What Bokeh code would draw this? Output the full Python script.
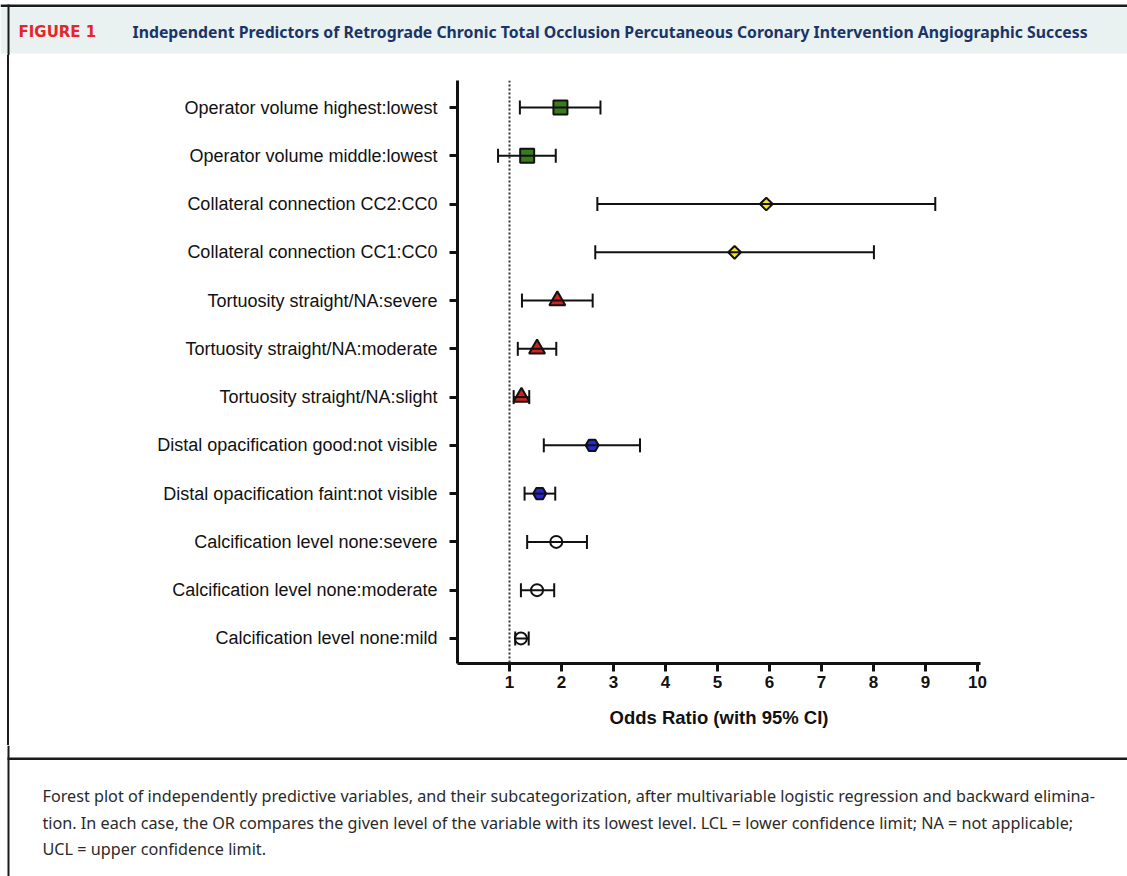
import math
from bokeh.plotting import figure
from bokeh.layouts import column, row
from bokeh.models import Range1d, FixedTicker, Span, ColumnDataSource, Div
from bokeh.core.properties import value
from bokeh.embed import file_html
from bokeh.resources import INLINE

# ---------------- data ----------------
labels = [
    "Operator volume highest:lowest",
    "Operator volume middle:lowest",
    "Collateral connection CC2:CC0",
    "Collateral connection CC1:CC0",
    "Tortuosity straight/NA:severe",
    "Tortuosity straight/NA:moderate",
    "Tortuosity straight/NA:slight",
    "Distal opacification good:not visible",
    "Distal opacification faint:not visible",
    "Calcification level none:severe",
    "Calcification level none:moderate",
    "Calcification level none:mild",
]
odds_ratio = [1.98, 1.34, 5.94, 5.33, 1.92, 1.53, 1.23, 2.59, 1.58, 1.90, 1.53, 1.22]
lcl = [1.20, 0.78, 2.69, 2.65, 1.24, 1.16, 1.08, 1.66, 1.29, 1.34, 1.22, 1.11]
ucl = [2.75, 1.89, 9.19, 8.01, 2.60, 1.90, 1.38, 3.51, 1.88, 2.49, 1.86, 1.37]
groups = ["operator", "operator", "collateral", "collateral",
          "tortuosity", "tortuosity", "tortuosity",
          "distal", "distal",
          "calcification", "calcification", "calcification"]
x_ticks = [1, 2, 3, 4, 5, 6, 7, 8, 9, 10]
reference_or = 1

title_tag = "FIGURE 1"
title_text = ("Independent Predictors of Retrograde Chronic Total Occlusion "
              "Percutaneous Coronary Intervention Angiographic Success")
caption_lines = [
    "Forest plot of independently predictive variables, and their subcategorization, after multivariable logistic regression and backward elimina-",
    "tion. In each case, the OR compares the given level of the variable with its lowest level. LCL = lower confidence limit; NA = not applicable;",
    "UCL = upper confidence limit.",
]

# ---------------- styles ----------------
style = {
    "operator":      dict(marker="square",   fill="#3B7A1E", size=14, angle=0.0),
    "collateral":    dict(marker="square",   fill="#F2E61E", size=9,  angle=math.pi / 4),
    "tortuosity":    dict(marker="triangle", fill="#D61F1F", size=16, angle=0.0),
    "distal":        dict(marker="hex",      fill="#2626DC", size=13, angle=0.0),
    "calcification": dict(marker="circle",   fill="#FFFFFF", size=12, angle=0.0),
}
INK = "#111111"
RULE = "#1a1a1a"

W, H = 1127, 876
TOP_H, BOT_H = 55, 131
MID_H = H - TOP_H - BOT_H
STRIP_W = 10


def blank(width, height):
    f = figure(width=width, height=height, output_backend="svg", toolbar_location=None,
               x_range=Range1d(0, width), y_range=Range1d(height, 0),
               x_axis_type=None, y_axis_type=None, min_border=0,
               background_fill_color="white", border_fill_color="white")
    f.outline_line_color = None
    f.grid.grid_line_color = None
    return f


# ---------------- title band ----------------
top = blank(W, TOP_H)
top.quad(left=[0], right=[W], top=[7], bottom=[53], fill_color="#E9F1F1", line_color=None)
top.quad(left=[0], right=[W], top=[4], bottom=[6.5], fill_color=RULE, line_color=None)
top.quad(left=[7], right=[9], top=[4], bottom=[TOP_H], fill_color=RULE, line_color=None)
top.text(x=[18], y=[31], text=[title_tag], text_font=value("DejaVu Sans"),
         text_font_style="bold", text_font_size="15px", text_color="#E4262C",
         text_baseline="middle")
top.text(x=[132], y=[31], text=[title_text], text_font=value("Noto Sans"),
         text_font_style="bold", text_font_size="15.8px", text_color="#1B3467",
         text_baseline="middle")

# ---------------- left rule strip (plain box, so it is not frame-aligned) ----------------
strip = Div(text="", width=STRIP_W, height=MID_H, margin=0,
            styles={"background": "linear-gradient(to right, #ffffff 7px, %s 7px, %s 9px, #ffffff 9px)" % (RULE, RULE)})

# ---------------- forest plot ----------------
n = len(labels)
ys = [n - i for i in range(n)]
MW = W - STRIP_W
FL, FR, FT, FB = 457 - STRIP_W, 980 - STRIP_W, 80 - TOP_H, 663 - TOP_H

p = figure(width=MW, height=MID_H, output_backend="svg", toolbar_location=None,
           x_range=Range1d(0, 10.06), y_range=Range1d(0.48, 12.56),
           min_border_left=FL, min_border_right=MW - FR,
           min_border_top=FT, min_border_bottom=MID_H - FB,
           background_fill_color="white", border_fill_color="white")
p.outline_line_color = None
p.grid.grid_line_color = None

p.add_layout(Span(location=reference_or, dimension="height", line_color="#333333",
                  line_width=2, line_dash="2 2"))

src = ColumnDataSource(dict(
    x=odds_ratio, y=ys, lcl=lcl, ucl=ucl,
    marker=[style[g]["marker"] for g in groups],
    fill=[style[g]["fill"] for g in groups],
    size=[style[g]["size"] for g in groups],
    angle=[style[g]["angle"] for g in groups],
))
p.scatter(x="x", y="y", source=src, marker="marker", fill_color="fill", size="size",
          angle="angle", line_color=INK, line_width=2)
p.segment(x0="lcl", y0="y", x1="ucl", y1="y", source=src, line_color=INK, line_width=2)
p.scatter(x="lcl", y="y", source=src, marker="dash", angle=math.pi / 2, size=14,
          line_color=INK, line_width=2)
p.scatter(x="ucl", y="y", source=src, marker="dash", angle=math.pi / 2, size=14,
          line_color=INK, line_width=2)

for ax in (p.xaxis[0], p.yaxis[0]):
    ax.axis_line_width = 3
    ax.axis_line_color = INK
    ax.major_tick_line_width = 3
    ax.major_tick_line_color = INK
    ax.major_tick_out = 8
    ax.major_tick_in = 0
    ax.minor_tick_line_color = None
    ax.major_label_text_color = INK
    ax.major_label_text_font = "Liberation Sans"

p.xaxis.ticker = FixedTicker(ticks=x_ticks)
p.xaxis.major_label_text_font_style = "bold"
p.xaxis.major_label_text_font_size = "17px"
p.xaxis.major_label_standoff = 4
p.xaxis.axis_label = "Odds Ratio (with 95% CI)"
p.xaxis.axis_label_text_font = "Liberation Sans"
p.xaxis.axis_label_text_font_style = "bold"
p.xaxis.axis_label_text_font_size = "18.5px"
p.xaxis.axis_label_text_color = INK
p.xaxis.axis_label_standoff = 16

p.yaxis.ticker = FixedTicker(ticks=ys)
p.yaxis.major_label_overrides = {y: lab for y, lab in zip(ys, labels)}
p.yaxis.major_label_text_font_size = "18px"
p.yaxis.major_label_standoff = 12

# ---------------- caption ----------------
bot = blank(W, BOT_H)
bot.quad(left=[7], right=[9], top=[0], bottom=[BOT_H], fill_color=RULE, line_color=None)
bot.quad(left=[7], right=[W], top=[12], bottom=[14.5], fill_color=RULE, line_color=None)
bot.text(x=[42] * len(caption_lines), y=[50.5 + 26.5 * i for i in range(len(caption_lines))],
         text=caption_lines, text_font=value("Noto Sans"), text_font_size="16.2px",
         text_color="#2a2a2a", text_baseline="middle")

layout = column(top, row(strip, p, spacing=0), bot, spacing=0)
open("out.html", "w").write(file_html(layout, INLINE))
